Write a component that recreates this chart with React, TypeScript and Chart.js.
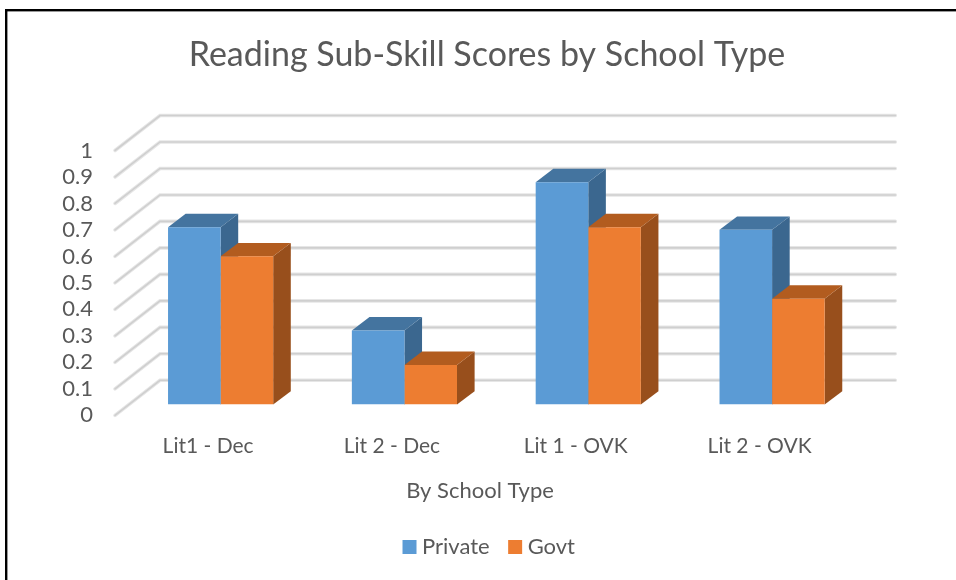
import React, { useEffect, useRef } from "react";
import { Chart, registerables } from "chart.js";

Chart.register(...registerables);

const categories = ["Lit1 - Dec", "Lit 2 - Dec", "Lit 1 - OVK", "Lit 2 - OVK"];
const privateScores = [0.67, 0.28, 0.84, 0.66];
const govtScores = [0.56, 0.15, 0.67, 0.4];
const chartTitle = "Reading Sub-Skill Scores by School Type";
const axisTitle = "By School Type";

const FONT = "Lato, Carlito, sans-serif";
const TEXT = "#595959";
const topShades = ["#44749f", "#b25c1f"];
const sideShades = ["#3b678f", "#984f1c"];
const BAR_DX = 17.6;
const BAR_DY = -13.4;

const depthPlugin = {
  id: "depth",
  afterLayout(chart: any) {
    chart.legend.left += 9;
  },
  beforeDraw(chart: any) {
    const { ctx, width, height } = chart;
    ctx.save();
    ctx.fillStyle = "#000";
    ctx.fillRect(5, 9, width - 5, 2.4);
    ctx.fillRect(5, 9, 2.4, height - 9);
    ctx.restore();
  },
  beforeDatasetsDraw(chart: any) {
    const { ctx, chartArea, scales } = chart;
    const yScale = scales.y;
    ctx.save();
    ctx.lineCap = "round";
    yScale.ticks.forEach((_: any, i: number) => {
      const y = yScale.getPixelForTick(i);
      const backY = y - 24.3;
      const frontY = y + 10.7;
      const leftFront = chartArea.left - 13.7;
      const leftBack = chartArea.left + 31.3;
      const rightBack = chartArea.right + 31.3;
      const path = () => {
        ctx.beginPath();
        ctx.moveTo(leftFront, frontY);
        ctx.lineTo(leftBack, backY);
        ctx.lineTo(rightBack, backY);
        ctx.stroke();
      };
      ctx.strokeStyle = "#e6e6e6";
      ctx.lineWidth = 3.6;
      path();
      ctx.strokeStyle = "#cfcfcf";
      ctx.lineWidth = 1.6;
      path();
    });
    chart.data.datasets.forEach((_: any, di: number) => {
      chart.getDatasetMeta(di).data.forEach((bar: any) => {
        const { x, y, base, width: w } = bar.getProps(["x", "y", "base", "width"]);
        const l = x - w / 2;
        const r = x + w / 2;
        ctx.fillStyle = sideShades[di];
        ctx.beginPath();
        ctx.moveTo(r, y);
        ctx.lineTo(r + BAR_DX, y + BAR_DY);
        ctx.lineTo(r + BAR_DX, base + BAR_DY);
        ctx.lineTo(r, base);
        ctx.closePath();
        ctx.fill();
        ctx.fillStyle = topShades[di];
        ctx.beginPath();
        ctx.moveTo(l, y);
        ctx.lineTo(l + BAR_DX, y + BAR_DY);
        ctx.lineTo(r + BAR_DX, y + BAR_DY);
        ctx.lineTo(r, y);
        ctx.closePath();
        ctx.fill();
      });
    });
    ctx.restore();
  },
  afterDraw(chart: any) {
    const { ctx } = chart;
    ctx.save();
    ctx.fillStyle = TEXT;
    ctx.font = `22px ${FONT}`;
    ctx.textAlign = "center";
    ctx.textBaseline = "middle";
    ctx.fillText(axisTitle, 480, 491);
    ctx.restore();
  },
};

export default function App() {
  const ref = useRef<HTMLCanvasElement>(null);
  useEffect(() => {
    if (!ref.current) return;
    const chart = new Chart(ref.current, {
      type: "bar",
      data: {
        labels: categories,
        datasets: [
          { label: "Private", data: privateScores, backgroundColor: "#5B9BD5", borderWidth: 0 },
          { label: "Govt", data: govtScores, backgroundColor: "#ED7D31", borderWidth: 0 },
        ],
      },
      options: {
        responsive: false,
        animation: false,
        layout: { padding: { left: 18, right: 0, top: 0, bottom: 12 } },
        datasets: { bar: { barPercentage: 1, categoryPercentage: 0.572 } },
        scales: {
          x: {
            grid: { display: false, drawTicks: false },
            border: { display: false },
            ticks: {
              color: TEXT,
              font: { family: FONT, size: 21 },
              padding: 29,
              labelOffset: -12.5,
              maxRotation: 0,
              autoSkip: false,
            },
            afterFit(scale: any) {
              scale.height = 107.4;
            },
          },
          y: {
            min: 0,
            max: 1,
            grid: { display: false, drawTicks: false },
            border: { display: false },
            ticks: {
              stepSize: 0.1,
              autoSkip: false,
              color: TEXT,
              font: { family: FONT, size: 22 },
              padding: 35.7,
              labelOffset: 10.7,
              callback: (v: any) => String(Number(Number(v).toFixed(1))),
            },
            afterFit(scale: any) {
              scale.width = 110.7;
            },
          },
          rightGap: {
            type: "linear",
            position: "right",
            display: true,
            grid: { display: false, drawTicks: false },
            border: { display: false },
            ticks: { display: false },
            afterFit(scale: any) {
              scale.width = 92;
            },
          },
        },
        plugins: {
          title: {
            display: true,
            text: chartTitle,
            color: TEXT,
            font: { family: FONT, size: 34, weight: "normal" },
            padding: { top: 35, bottom: 64 },
          },
          legend: {
            position: "bottom",
            labels: {
              color: TEXT,
              font: { family: FONT, size: 22 },
              boxWidth: 3,
              boxHeight: 3,
              padding: 24,
              generateLabels(c: any) {
                return c.data.datasets.map((d: any, i: number) => ({
                  text: d.label,
                  fillStyle: d.backgroundColor,
                  strokeStyle: d.backgroundColor,
                  fontColor: TEXT,
                  lineWidth: 11,
                  datasetIndex: i,
                  hidden: false,
                }));
              },
            },
          },
          tooltip: { enabled: false },
        },
      },
      plugins: [depthPlugin],
    } as any);
    return () => chart.destroy();
  }, []);
  return (
    <div style={{ position: "fixed", left: 0, top: 0, width: 956, height: 580, background: "#fff" }}>
      <canvas ref={ref} width={956} height={580} style={{ display: "block" }} />
    </div>
  );
}
